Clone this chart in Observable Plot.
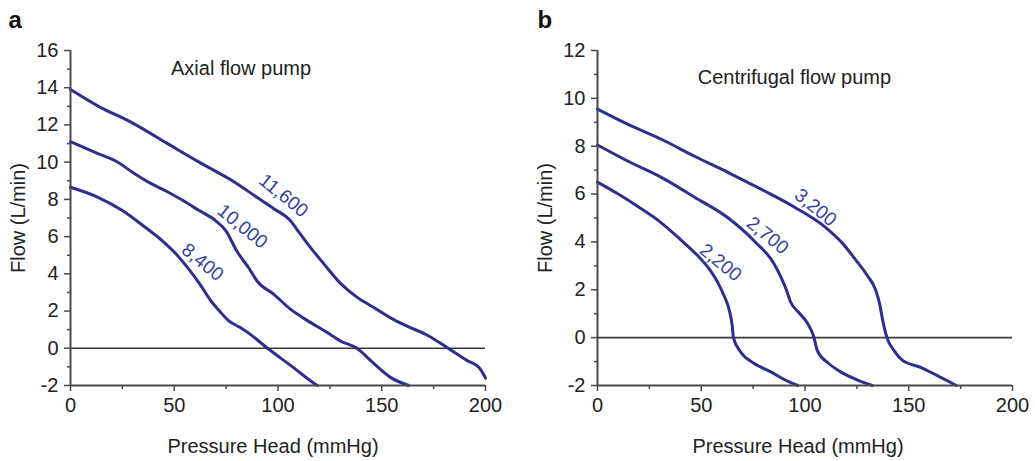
<!DOCTYPE html>
<html><head><meta charset="utf-8">
<script src="https://cdn.jsdelivr.net/npm/d3@7"></script>
<script src="https://cdn.jsdelivr.net/npm/@observablehq/plot@0.6"></script>
<style>
body{margin:0;background:#fff;width:1035px;height:461px;overflow:hidden;font-family:"Liberation Sans",Arial,sans-serif;}
#wrap{position:relative;width:1035px;height:461px;}
#pa{position:absolute;left:0;top:0;}
#pb{position:absolute;left:517px;top:0;}
</style></head><body><div id="wrap"><div id="pa"></div><div id="pb"></div></div>
<script>
// ---- Data ----
const pressureTicks = [0, 50, 100, 150, 200];
const pressureMinorTicks = [25, 75, 125, 175];
const axialFlowTicks = [-2, 0, 2, 4, 6, 8, 10, 12, 14, 16];
const axialFlowMinorTicks = [-1, 1, 3, 5, 7, 9, 11, 13, 15];
const centrifugalFlowTicks = [-2, 0, 2, 4, 6, 8, 10, 12];
const centrifugalFlowMinorTicks = [-1, 1, 3, 5, 7, 9, 11];

// Axial flow pump (rpm: 11,600 / 10,000 / 8,400)
const axial11600Pressure = [0, 13.5, 30, 46, 62, 78, 90, 98, 106, 110, 114, 122, 130, 138, 146, 154, 162, 172, 182, 191, 197, 200];
const axial11600Flow     = [13.9, 13.0, 12.1, 11.05, 10.0, 9.0, 8.1, 7.5, 6.85, 6.25, 5.65, 4.55, 3.5, 2.75, 2.2, 1.65, 1.2, 0.7, 0.0, -0.65, -1.05, -1.6];
const axial10000Pressure = [0, 13.5, 22, 30, 38, 46, 54, 62, 70, 75, 80, 86, 90, 98, 106, 114, 123, 130, 138, 146, 154, 163];
const axial10000Flow     = [11.1, 10.45, 10.05, 9.45, 8.9, 8.45, 7.95, 7.4, 6.85, 6.3, 5.25, 4.3, 3.6, 2.9, 2.1, 1.5, 0.9, 0.4, 0.0, -0.8, -1.55, -2.0];
const axial8400Pressure  = [0, 13.5, 25, 36, 44, 51, 57, 62, 68, 72, 76, 82, 86, 95, 107, 117, 119];
const axial8400Flow      = [8.65, 8.1, 7.4, 6.5, 5.8, 5.05, 4.25, 3.5, 2.5, 1.98, 1.5, 1.1, 0.8, 0.0, -1.0, -1.85, -2.0];

// Centrifugal flow pump (rpm: 3,200 / 2,700 / 2,200)
const centri3200Pressure = [0, 15, 31, 47, 63, 80, 95, 110, 118, 124, 130, 134, 136, 137.5, 139.5, 143, 147, 156, 164, 173];
const centri3200Flow     = [9.55, 8.9, 8.28, 7.57, 6.9, 6.15, 5.45, 4.6, 3.95, 3.3, 2.6, 2.0, 1.4, 0.7, 0.0, -0.55, -0.95, -1.25, -1.6, -2.0];
const centri2700Pressure = [0, 15, 31, 47, 63, 76, 85, 88, 91, 93, 97, 101, 104, 106, 111, 117, 125, 132.5];
const centri2700Flow     = [8.05, 7.36, 6.69, 5.86, 5.0, 4.0, 3.1, 2.6, 2.0, 1.5, 1.05, 0.63, 0.1, -0.55, -1.05, -1.42, -1.76, -2.0];
const centri2200Pressure = [0, 10, 20, 30, 40, 48, 54, 58, 61, 63.5, 65, 65.5, 69, 75, 84, 90, 96.5];
const centri2200Flow     = [6.5, 6.0, 5.45, 4.85, 4.1, 3.45, 2.85, 2.3, 1.75, 1.15, 0.45, 0.0, -0.6, -1.05, -1.45, -1.75, -2.0];

const axialSpeeds = ["11,600", "10,000", "8,400"];
const centriSpeeds = ["3,200", "2,700", "2,200"];
// label anchor points along each curve (pressure, flow)
const axialLabelPressure = [102.7, 82.9, 63.6];
const axialLabelFlow = [8.21, 6.55, 4.62];
const centriLabelPressure = [105.1, 81.9, 59.3];
const centriLabelFlow = [5.44, 4.27, 3.14];

const xTitle = "Pressure Head (mmHg)";
const yTitle = "Flow (L/min)";

// ---- Build tables ----
function toRows(name, xs, ys) { return xs.map((x, i) => ({pressure: x, flow: ys[i], speed: name})); }
const axialRows = [
  ...toRows(axialSpeeds[0], axial11600Pressure, axial11600Flow),
  ...toRows(axialSpeeds[1], axial10000Pressure, axial10000Flow),
  ...toRows(axialSpeeds[2], axial8400Pressure, axial8400Flow)
];
const centriRows = [
  ...toRows(centriSpeeds[0], centri3200Pressure, centri3200Flow),
  ...toRows(centriSpeeds[1], centri2700Pressure, centri2700Flow),
  ...toRows(centriSpeeds[2], centri2200Pressure, centri2200Flow)
];
const axialLabels = axialSpeeds.map((t, i) => ({text: t, pressure: axialLabelPressure[i], flow: axialLabelFlow[i]}));
const centriLabels = centriSpeeds.map((t, i) => ({text: t, pressure: centriLabelPressure[i], flow: centriLabelFlow[i]}));

const FONT = "'Liberation Sans', Arial, sans-serif";
const LINE = "#2d2f8e";
const LABEL = "#3143a0";
const AXIS = "#4a4a4a";

function panel(o) {
  return Plot.plot({
    width: o.width, height: 461,
    marginLeft: o.marginLeft, marginRight: o.marginRight, marginTop: 50, marginBottom: 76,
    style: {fontFamily: FONT, fontSize: "20px", color: "#222", background: "#fff", overflow: "visible"},
    x: {domain: [0, 200], label: null, axis: null},
    y: {domain: o.yDomain, label: null, axis: null},
    marks: [
      Plot.ruleY([0], {stroke: "#3a3a3a", strokeWidth: 1.6}),
      Plot.line(o.rows, {x: "pressure", y: "flow", z: "speed", stroke: LINE, strokeWidth: 3, curve: "monotone-x"}),
      Plot.ruleX([0], {stroke: AXIS, strokeWidth: 2}),
      Plot.ruleY([o.yDomain[0]], {stroke: AXIS, strokeWidth: 2}),
      Plot.axisX({ticks: pressureTicks, tickSize: 6, tickPadding: 6, tickFormat: d => String(d), label: null, stroke: AXIS, strokeWidth: 1.5, fontSize: 20}),
      Plot.axisX({ticks: pressureMinorTicks, tickSize: 4, tickFormat: () => "", label: null, stroke: AXIS, strokeWidth: 1.5}),
      Plot.axisY({ticks: o.yMajor, tickSize: 6, tickPadding: 6, tickFormat: d => String(d), label: null, stroke: AXIS, strokeWidth: 1.5, fontSize: 20}),
      Plot.axisY({ticks: o.yMinor, tickSize: 3, tickFormat: () => "", label: null, stroke: AXIS, strokeWidth: 1.5}),
      Plot.text(o.labels, {x: "pressure", y: "flow", text: "text", rotate: 39, fill: LABEL, fontSize: 19}),
      Plot.text([o.title], {x: o.titleX, y: o.titleY, fill: "#222", fontSize: 20}),
      Plot.text([xTitle], {frameAnchor: "bottom", textAnchor: "middle", lineAnchor: "top", dy: 53, dx: o.xLabelDx, fill: "#222", fontSize: 20}),
      Plot.text([yTitle], {frameAnchor: "left", textAnchor: "middle", lineAnchor: "middle", rotate: -90, dx: -52, fill: "#222", fontSize: 20}),
      Plot.text([o.letter], {frameAnchor: "top-left", textAnchor: "start", lineAnchor: "bottom", dx: o.letterDx, dy: -23, fontWeight: "bold", fill: "#111", fontSize: 24})
    ]
  });
}

document.getElementById("pa").append(panel({
  width: 517, marginLeft: 70, marginRight: 32, yDomain: [-2, 16],
  yMajor: axialFlowTicks, yMinor: axialFlowMinorTicks,
  rows: axialRows, labels: axialLabels,
  title: "Axial flow pump", titleX: 82.2, titleY: 15.03,
  xLabelDx: -5, letter: "a", letterDx: -62
}));
document.getElementById("pb").append(panel({
  width: 518, marginLeft: 80, marginRight: 23, yDomain: [-2, 12],
  yMajor: centrifugalFlowTicks, yMinor: centrifugalFlowMinorTicks,
  rows: centriRows, labels: centriLabels,
  title: "Centrifugal flow pump", titleX: 94.9, titleY: 10.88,
  xLabelDx: -7, letter: "b", letterDx: -60
}));
</script></body></html>
